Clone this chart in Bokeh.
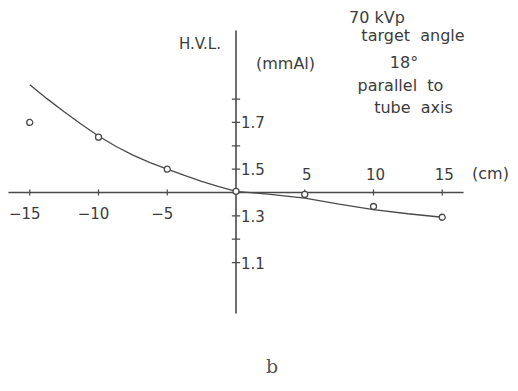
from bokeh.plotting import figure
from bokeh.models import Range1d
from bokeh.core.properties import value
from bokeh.embed import file_html
from bokeh.resources import INLINE

# Half-value layer (mm Al) measured across the field, 70 kVp
pos_cm = [-15, -10, -5, 0, 5, 10, 15]
hvl_mm_al = [1.70, 1.637, 1.50, 1.405, 1.392, 1.340, 1.294]

# Smooth fitted curve drawn through the measurements
curve_cm = [-15, -13.75, -12.5, -11.25, -10, -8.75, -7.5, -6.25, -5, -3.75,
            -2.5, -1.25, 0, 2.5, 5, 7.5, 10, 12.5, 15]
curve_hvl = [1.862, 1.802, 1.746, 1.692, 1.642, 1.598, 1.560, 1.528, 1.500,
             1.473, 1.448, 1.425, 1.405, 1.392, 1.376, 1.350, 1.327, 1.309, 1.294]

# Axes: the horizontal axis crosses the HVL axis at 1.4 mm Al
axis_cross = 1.4
x_ticks = [-15, -10, -5, 5, 10, 15]
x_tick_labels_neg = ["\u221215", "\u221210", "\u22125"]
x_tick_labels_pos = ["5", "10", "15"]
y_ticks = [1.1, 1.2, 1.3, 1.5, 1.6, 1.7, 1.8]
y_label_values = [1.1, 1.3, 1.5, 1.7]
y_tick_labels = ["1.1", "1.3", "1.5", "1.7"]

INK = "#4a4a4a"
TXT = "#3c3c3c"
FONT = value("DejaVu Sans")

p = figure(width=518, height=391, output_backend="svg", toolbar_location=None,
           x_axis_type=None, y_axis_type=None,
           x_range=Range1d(-17.127, 20.545), y_range=Range1d(0.5478, 2.2223),
           min_border=0, min_border_left=0, min_border_right=0,
           min_border_top=0, min_border_bottom=0)
p.outline_line_color = None
p.grid.visible = False
p.background_fill_color = "white"
p.border_fill_color = "white"

# axis lines
p.segment(x0=[-16.55], y0=[axis_cross], x1=[16.55], y1=[axis_cross],
          line_color=INK, line_width=1.6)
p.segment(x0=[0], y0=[0.882], x1=[0], y1=[2.094], line_color=INK, line_width=1.6)

# tick marks
p.segment(x0=x_ticks, y0=[axis_cross - 0.013] * len(x_ticks),
          x1=x_ticks, y1=[axis_cross + 0.013] * len(x_ticks),
          line_color=INK, line_width=1.2)
p.segment(x0=[-0.3] * len(y_ticks), y0=y_ticks,
          x1=[0.3] * len(y_ticks), y1=y_ticks,
          line_color=INK, line_width=1.2)

# tick labels: negative below the axis, positive above it
p.text(x=x_ticks[:3], y=[1.314] * 3, text=x_tick_labels_neg, x_offset=-5,
       text_align="center", text_baseline="middle", text_font=FONT,
       text_font_size="15px", text_color=TXT)
p.text(x=x_ticks[3:], y=[1.481] * 3, text=x_tick_labels_pos, x_offset=2,
       text_align="center", text_baseline="middle", text_font=FONT,
       text_font_size="15px", text_color=TXT)
p.text(x=[0] * len(y_label_values), y=y_label_values, text=y_tick_labels,
       x_offset=5, text_align="left", text_baseline="middle", text_font=FONT,
       text_font_size="15px", text_color=TXT)

# curve and measured points
p.line(curve_cm, curve_hvl, line_color=INK, line_width=1.3)
p.scatter(pos_cm, hvl_mm_al, size=6, marker="circle", fill_color="white",
          line_color=INK, line_width=1.3)

# axis titles and notes (centred)
labels = [
    (-2.62, 2.034, "H.V.L.", "15px"),
    (3.60, 1.952, "(mmAl)", "16px"),
    (18.51, 1.481, "(cm)", "16px"),
    (10.25, 2.149, "70 kVp", "16px"),
    (12.87, 2.072, "target\u00a0\u00a0angle", "16px"),
    (12.22, 1.957, "18°", "16px"),
    (11.96, 1.858, "parallel\u00a0\u00a0to", "16px"),
    (12.91, 1.764, "tube\u00a0\u00a0axis", "16px"),
]
for lx, ly, lt, fs in labels:
    p.text(x=[lx], y=[ly], text=[lt], text_align="center",
           text_baseline="middle", text_font=FONT, text_font_size=fs,
           text_color=TXT)

p.text(x=[2.63], y=[0.655], text=["b"], text_align="center",
       text_baseline="middle", text_font=value("DejaVu Serif"),
       text_font_size="19px", text_color="#555555")

open("out.html", "w").write(file_html(p, INLINE))
